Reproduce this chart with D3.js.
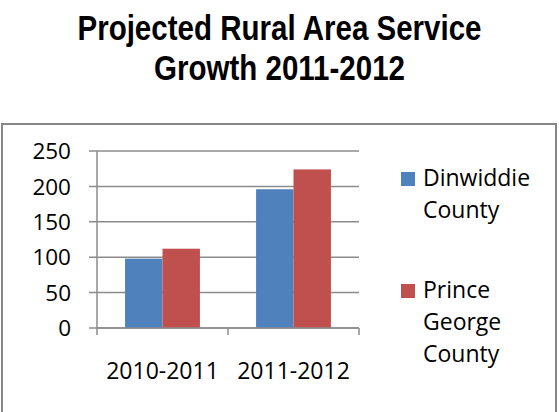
<!DOCTYPE html>
<html>
<head>
<meta charset="utf-8">
<script src="https://cdn.jsdelivr.net/npm/d3@7"></script>
<style>
  body { margin: 0; background: #fff; }
  svg { display: block; }
</style>
</head>
<body>
<svg id="chart"></svg>
<script>
const periods = ['2010-2011', '2011-2012'];
const seriesNames = ['Dinwiddie County', 'Prince George County'];
const dinwiddie = [98, 196];
const princeGeorge = [112, 224];
const yTicks = [0, 50, 100, 150, 200, 250];
const titleLines = ['Projected Rural Area Service', 'Growth 2011-2012'];

const colors = ['#4F81BD', '#C0504D'];
const W = 559, H = 412;
const labelFont = "'Open Sans', 'DejaVu Sans', sans-serif";

const svg = d3.select('#chart').attr('width', W).attr('height', H);

// title (narrow bold look)
titleLines.forEach((t, i) => {
  svg.append('text')
    .attr('transform', `translate(${W / 2},${40 + i * 40}) scale(0.82,1)`)
    .attr('text-anchor', 'middle')
    .attr('font-family', "'Liberation Sans', Arial, sans-serif")
    .attr('font-weight', 'bold')
    .attr('font-size', '36px')
    .attr('fill', '#000')
    .text(t);
});

// chart frame
svg.append('rect')
  .attr('x', 2).attr('y', 124)
  .attr('width', 554).attr('height', 300)
  .attr('fill', 'none')
  .attr('stroke', '#868686')
  .attr('stroke-width', 2);

const plot = { left: 97, right: 359, top: 151, bottom: 328 };

const y = d3.scaleLinear().domain([0, 250]).range([plot.bottom, plot.top]);
const x = d3.scaleBand().domain(periods).range([plot.left, plot.right]).padding(0);
const xs = d3.scaleBand().domain(seriesNames).range([0, x.bandwidth()])
  .paddingInner(0).paddingOuter(0.75);

const gridColor = '#8c8c8c';

// gridlines + y ticks
svg.append('g')
  .selectAll('line')
  .data(yTicks)
  .join('line')
    .attr('x1', plot.left - 8).attr('x2', plot.right)
    .attr('y1', d => y(d)).attr('y2', d => y(d))
    .attr('stroke', gridColor)
    .attr('stroke-width', 1.5);

svg.append('g')
  .selectAll('text')
  .data(yTicks)
  .join('text')
    .attr('x', 71)
    .attr('y', d => y(d))
    .attr('dy', '0.36em')
    .attr('text-anchor', 'end')
    .attr('font-family', labelFont)
    .attr('font-size', '22.5px')
    .attr('fill', '#000')
    .text(d => d);

// bars
const rows = periods.map((p, i) => ({ period: p, values: [dinwiddie[i], princeGeorge[i]] }));
svg.append('g')
  .selectAll('g')
  .data(rows)
  .join('g')
    .attr('transform', d => `translate(${x(d.period)},0)`)
  .selectAll('rect')
  .data(d => d.values.map((v, j) => ({ name: seriesNames[j], value: v, j })))
  .join('rect')
    .attr('x', d => xs(d.name))
    .attr('width', xs.bandwidth())
    .attr('y', d => y(d.value))
    .attr('height', d => y(0) - y(d.value))
    .attr('fill', d => colors[d.j]);

// y axis line
svg.append('line')
  .attr('x1', plot.left).attr('x2', plot.left)
  .attr('y1', plot.top).attr('y2', plot.bottom)
  .attr('stroke', gridColor).attr('stroke-width', 1.5);

// x axis line and ticks
svg.append('line')
  .attr('x1', plot.left).attr('x2', plot.right)
  .attr('y1', plot.bottom).attr('y2', plot.bottom)
  .attr('stroke', gridColor).attr('stroke-width', 1.5);

const xTickPos = periods.map(p => x(p)).concat([plot.right]);
svg.append('g')
  .selectAll('line')
  .data(xTickPos)
  .join('line')
    .attr('x1', d => d).attr('x2', d => d)
    .attr('y1', plot.bottom).attr('y2', plot.bottom + 7)
    .attr('stroke', gridColor).attr('stroke-width', 1.5);

svg.append('g')
  .selectAll('text')
  .data(periods)
  .join('text')
    .attr('x', d => x(d) + x.bandwidth() / 2)
    .attr('y', 379)
    .attr('text-anchor', 'middle')
    .attr('font-family', labelFont)
    .attr('font-size', '23px')
    .attr('fill', '#000')
    .text(d => d);

// legend
const legendLines = [['Dinwiddie', 'County'], ['Prince', 'George', 'County']];
const legendBase = [186, 298];
const lineH = 32;
legendLines.forEach((lines, i) => {
  const g = svg.append('g');
  g.append('rect')
    .attr('x', 401).attr('y', legendBase[i] - 14)
    .attr('width', 14).attr('height', 14)
    .attr('fill', colors[i]);
  g.selectAll('text')
    .data(lines)
    .join('text')
      .attr('x', 423)
      .attr('y', (d, k) => legendBase[i] + k * lineH)
      .attr('font-family', labelFont)
      .attr('font-size', '23px')
      .attr('fill', '#000')
      .text(d => d);
});
</script>
</body>
</html>
